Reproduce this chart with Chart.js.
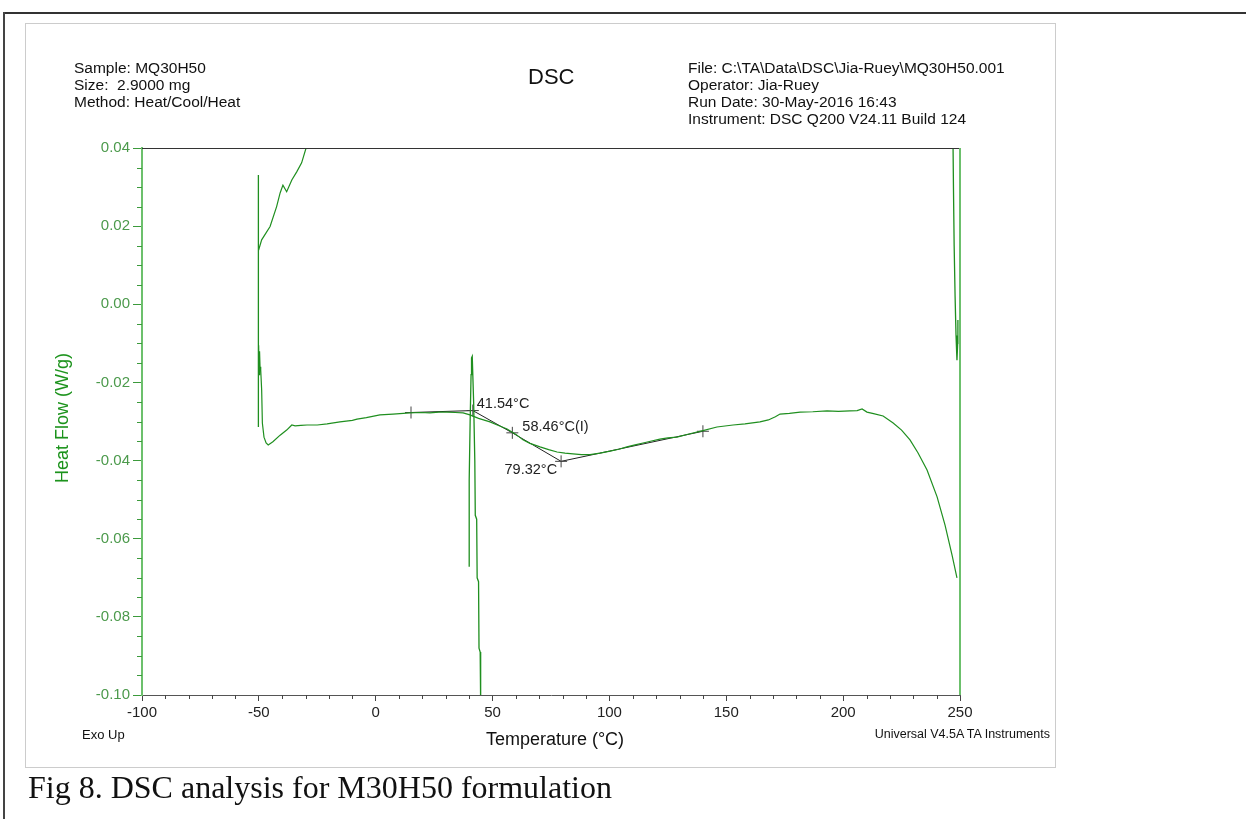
<!DOCTYPE html>
<html>
<head>
<meta charset="utf-8">
<script src="https://cdn.jsdelivr.net/npm/chart.js@4/dist/chart.umd.min.js"></script>
<style>
  html, body { margin:0; padding:0; background:#fff; width:1246px; height:819px; overflow:hidden; }
  .t { position:absolute; font-family:"Liberation Sans", Arial, sans-serif; color:#111; white-space:nowrap; }
  #wrap { position:absolute; left:0; top:0; width:1246px; height:819px; }
</style>
</head>
<body>
<div style="position:absolute;left:3px;top:12px;width:1243px;height:2px;background:#333"></div>
<div style="position:absolute;left:3px;top:12px;width:2px;height:807px;background:#444"></div>
<div style="position:absolute;left:25px;top:23px;width:1029px;height:743px;border:1px solid #ccc"></div>
<div id="wrap"><canvas id="c" width="1246" height="819"></canvas></div>

<div class="t" style="left:74px;top:59px;font-size:15.5px;line-height:17px">Sample: MQ30H50<br>Size:&nbsp; 2.9000 mg<br>Method: Heat/Cool/Heat</div>
<div class="t" style="left:528px;top:66px;font-size:22px;line-height:22px">DSC</div>
<div class="t" style="left:688px;top:59px;font-size:15.5px;line-height:17px">File: C:\TA\Data\DSC\Jia-Ruey\MQ30H50.001<br>Operator: Jia-Ruey<br>Run Date: 30-May-2016 16:43<br>Instrument: DSC Q200 V24.11 Build 124</div>
<div class="t" style="left:555px;top:730px;font-size:18px;line-height:18px;transform:translateX(-50%)">Temperature (°C)</div>
<div class="t" style="left:82px;top:728px;font-size:13px;line-height:13px">Exo Up</div>
<div class="t" style="right:196px;top:728px;font-size:12.5px;line-height:13px">Universal V4.5A TA Instruments</div>
<div class="t" style="left:62px;top:418px;font-size:18px;line-height:18px;color:#1a921a;transform:translate(-50%,-50%) rotate(-90deg)">Heat Flow (W/g)</div>
<div class="t" style="left:28px;top:771px;font-family:'Liberation Serif','Times New Roman',serif;font-size:32px;line-height:32px;color:#111">Fig 8. DSC analysis for M30H50 formulation</div>

<script>
// ---- tick values ----
const xTickValues = [-100, -50, 0, 50, 100, 150, 200, 250];
const yTickValues = [-0.10, -0.08, -0.06, -0.04, -0.02, 0.00, 0.02, 0.04];

// ---- curve segments: [temperature °C, heat flow W/g] ----
const startJump = [[-50.2, 0.0331], [-50.2, -0.0314]];
const coolTail = [
  [-50.1, 0.0139], [-48.8, 0.0165], [-45.2, 0.0199], [-42.4, 0.0250], [-40.9, 0.0285],
  [-39.7, 0.0305], [-38.1, 0.0288], [-35.9, 0.0318], [-33.8, 0.0339], [-31.7, 0.0362],
  [-29.8, 0.0400], [-29.0, 0.0420]
];
const heatingCurve = [
  [-50.1, -0.0105], [-49.9, -0.0180], [-49.7, -0.0120], [-49.5, -0.0160], [-49.2, -0.0168],
  [-48.8, -0.0219], [-48.5, -0.0304], [-47.8, -0.0340], [-46.9, -0.0355], [-46.0, -0.0360],
  [-44.0, -0.0352], [-40.9, -0.0335], [-38.1, -0.0322], [-35.9, -0.0309], [-34.5, -0.0311],
  [-32.0, -0.0310], [-29.4, -0.0309], [-25.0, -0.0309], [-20.8, -0.0306], [-15.3, -0.0301],
  [-10.0, -0.0297], [-8.0, -0.0294], [-4.0, -0.0290], [1.8, -0.0283], [7.4, -0.0281],
  [14.7, -0.0278], [19.0, -0.0277], [23.2, -0.0278], [27.0, -0.0276], [30.5, -0.0276],
  [34.0, -0.0277], [37.4, -0.0278], [40.3, -0.0283], [44.0, -0.0292], [48.9, -0.0301],
  [52.0, -0.0309], [56.2, -0.0319], [60.0, -0.0333], [63.0, -0.0347], [66.0, -0.0356],
  [70.3, -0.0365], [74.0, -0.0372], [77.6, -0.0378], [81.0, -0.0381], [84.4, -0.0383],
  [88.0, -0.0385], [91.7, -0.0385], [96.0, -0.0381], [100.3, -0.0376], [104.0, -0.0371],
  [107.5, -0.0365], [111.0, -0.0360], [114.4, -0.0355], [118.0, -0.0350], [121.6, -0.0345],
  [125.0, -0.0342], [128.9, -0.0340], [134.0, -0.0332], [139.6, -0.0324], [146.0, -0.0314],
  [152.9, -0.0309], [158.0, -0.0306], [164.4, -0.0301], [168.0, -0.0296], [171.0, -0.0288],
  [173.0, -0.0281], [177.0, -0.0279], [181.6, -0.0276], [187.0, -0.0275], [193.1, -0.0273],
  [198.0, -0.0274], [202.9, -0.0273], [206.0, -0.0272], [208.1, -0.0268], [210.2, -0.0276],
  [213.0, -0.0280], [217.1, -0.0286], [221.4, -0.0304], [225.0, -0.0322], [228.6, -0.0347],
  [232.0, -0.0380], [235.9, -0.0424], [240.2, -0.0493], [243.6, -0.0565], [246.6, -0.0642],
  [248.7, -0.0700]
];
const spikeCurve = [
  [40.0, -0.0672], [40.0, -0.0450], [40.4, -0.0300], [40.8, -0.0180], [41.0, -0.0137],
  [41.3, -0.0133], [41.9, -0.0250], [42.4, -0.0400], [42.6, -0.0540], [43.2, -0.0550],
  [43.4, -0.0700], [44.0, -0.0710], [44.2, -0.0880], [44.7, -0.0890], [44.9, -0.1020]
];
const endJump = [
  [247.0, 0.0420], [247.2, 0.0300], [247.5, 0.0150], [247.9, 0.0020], [248.3, -0.0080],
  [248.7, -0.0143], [249.0, -0.0100], [249.1, -0.0040]
];
// ---- analysis construction lines and labels ----
const tangentLine = [[15.1, -0.0277], [41.54, -0.0272], [58.46, -0.0329], [79.32, -0.0402], [140.0, -0.0325]];
const analysisLabels = [
  { t: 41.54, h: -0.0272, text: "41.54°C", dx: 4, dy: -7, align: "left" },
  { t: 58.46, h: -0.0329, text: "58.46°C(I)", dx: 10, dy: -6, align: "left" },
  { t: 79.32, h: -0.0402, text: "79.32°C", dx: -4, dy: 9, align: "right" }
];

const GREEN = '#1f8f1f';
const toXY = arr => arr.map(p => ({ x: p[0], y: p[1] }));
function seg(arr, color, width) {
  return { data: toXY(arr), showLine: true, borderColor: color, borderWidth: width, pointRadius: 0, tension: 0, fill: false };
}

const extras = {
  id: 'extras',
  afterDraw(chart) {
    const ctx = chart.ctx, x = chart.scales.x, y = chart.scales.y, a = chart.chartArea;
    ctx.save();
    ctx.strokeStyle = '#333'; ctx.lineWidth = 1;
    ctx.beginPath(); ctx.moveTo(a.left, a.top + 0.5); ctx.lineTo(a.right, a.top + 0.5); ctx.stroke();
    ctx.strokeStyle = '#6cc06c'; ctx.lineWidth = 2;
    ctx.beginPath(); ctx.moveTo(a.right, a.top); ctx.lineTo(a.right, a.bottom); ctx.stroke();
    ctx.strokeStyle = '#3c9a3c'; ctx.lineWidth = 1;
    for (let k = 0; k <= 28; k++) {
      if (k % 4 === 0) continue;
      const v = -0.10 + k * 0.005;
      const py = Math.round(y.getPixelForValue(v)) + 0.5;
      ctx.beginPath(); ctx.moveTo(a.left - 5, py); ctx.lineTo(a.left, py); ctx.stroke();
    }
    ctx.strokeStyle = '#444';
    for (let v = -100; v <= 250; v += 10) {
      if (v % 50 === 0) continue;
      const px = Math.round(x.getPixelForValue(v)) + 0.5;
      ctx.beginPath(); ctx.moveTo(px, a.bottom); ctx.lineTo(px, a.bottom + 4); ctx.stroke();
    }
    ctx.fillStyle = '#222';
    ctx.font = '14.5px "Liberation Sans", Arial, sans-serif';
    ctx.textBaseline = 'middle';
    analysisLabels.forEach(l => {
      ctx.textAlign = l.align;
      ctx.fillText(l.text, x.getPixelForValue(l.t) + l.dx, y.getPixelForValue(l.h) + l.dy);
    });
    ctx.restore();
  }
};

new Chart(document.getElementById('c'), {
  type: 'scatter',
  data: {
    datasets: [
      seg(startJump, GREEN, 1.3),
      seg(coolTail, GREEN, 1.2),
      seg(heatingCurve, GREEN, 1.2),
      seg(spikeCurve, GREEN, 1.3),
      seg(endJump, GREEN, 1.3),
      Object.assign(seg(tangentLine, '#222', 1), { pointRadius: 6, pointStyle: 'cross', pointBorderColor: '#444', pointBorderWidth: 1 })
    ]
  },
  options: {
    responsive: false,
    animation: false,
    events: [],
    layout: { padding: { left: 0, top: 148, right: 286, bottom: 94 } },
    plugins: { legend: { display: false }, tooltip: { enabled: false } },
    scales: {
      x: {
        type: 'linear', min: -100, max: 250,
        afterFit: s => { s.height = 30; },
        afterBuildTicks: s => { s.ticks = xTickValues.map(v => ({ value: v })); },
        grid: { drawOnChartArea: false, drawTicks: true, tickLength: 6, color: '#444' },
        border: { color: '#555', width: 1 },
        ticks: { autoSkip: false, maxRotation: 0, padding: 3, color: '#222', font: { family: 'Liberation Sans', size: 15 } }
      },
      y: {
        type: 'linear', min: -0.10, max: 0.04,
        afterFit: s => { s.width = 142; },
        afterBuildTicks: s => { s.ticks = yTickValues.map(v => ({ value: v })); },
        grid: { drawOnChartArea: false, drawTicks: true, tickLength: 9, color: '#3c9a3c' },
        border: { color: '#6cc06c', width: 2 },
        ticks: {
          padding: 3, color: '#4c9a4c', font: { family: 'Liberation Sans', size: 15 },
          callback: v => (Math.abs(v) < 1e-9 ? 0 : v).toFixed(2)
        }
      }
    }
  },
  plugins: [extras]
});
</script>
</body>
</html>
